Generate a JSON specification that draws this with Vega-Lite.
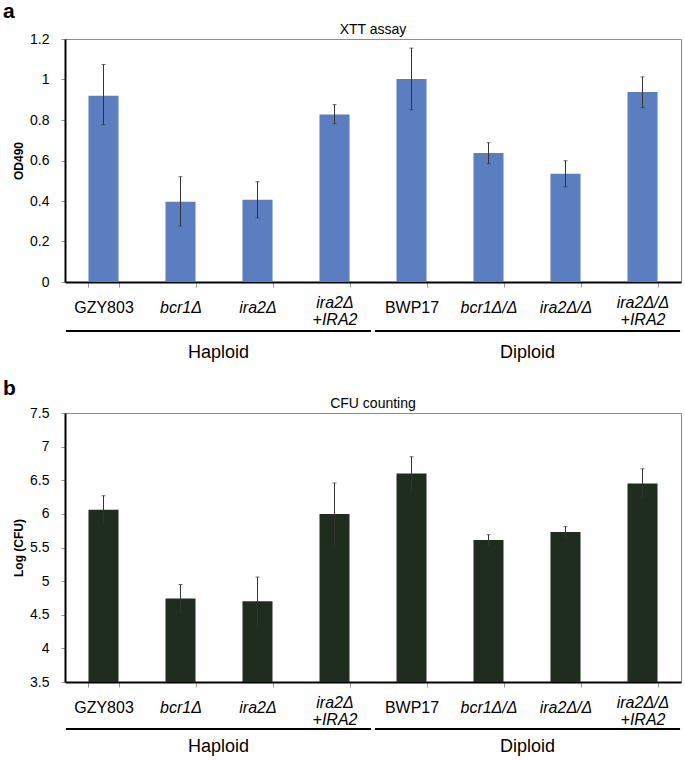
{
  "$schema": "https://vega.github.io/schema/vega-lite/v6.json",
  "padding": {"left": 3, "top": 0, "right": 3, "bottom": 0},
  "background": "white",
  "config": {
    "font": "Liberation Sans",
    "view": {"stroke": "#8c8c8c", "strokeWidth": 1},
    "axisY": {"domainColor": "#000", "domainWidth": 2, "tickColor": "#999", "tickSize": 4, "labelFontSize": 14, "labelColor": "#000", "labelPadding": 12, "labelOverlap": false, "labelBound": false, "titleFontSize": 12, "titleFontWeight": "bold", "titleColor": "#000", "titlePadding": 4, "grid": false, "format": "~g"},
    "axisX": {"domainColor": "#000", "domainWidth": 2, "tickColor": "#999", "tickSize": 5, "tickBand": "extent", "labelFontSize": 16, "labelColor": "#000", "labelPadding": 20, "labelLineHeight": 17, "labelAngle": 0, "labelOverlap": false, "labelLimit": 0, "title": null, "grid": false},
    "title": {"color": "#000"}
  },
  "datasets": {
    "strains": [
      {"strain": "GZY803", "od": 0.92, "odLo": 0.777, "odHi": 1.074, "cfu": 6.06, "cfuLo": 5.87, "cfuHi": 6.27},
      {"strain": "bcr1Δ", "od": 0.396, "odLo": 0.277, "odHi": 0.52, "cfu": 4.74, "cfuLo": 4.53, "cfuHi": 4.95},
      {"strain": "ira2Δ", "od": 0.406, "odLo": 0.317, "odHi": 0.495, "cfu": 4.7, "cfuLo": 4.31, "cfuHi": 5.06},
      {"strain": "ira2Δ|+IRA2", "od": 0.827, "odLo": 0.782, "odHi": 0.876, "cfu": 6.0, "cfuLo": 5.52, "cfuHi": 6.46},
      {"strain": "BWP17", "od": 1.003, "odLo": 0.851, "odHi": 1.155, "cfu": 6.6, "cfuLo": 6.34, "cfuHi": 6.85},
      {"strain": "bcr1Δ/Δ", "od": 0.637, "odLo": 0.584, "odHi": 0.688, "cfu": 5.61, "cfuLo": 5.53, "cfuHi": 5.69},
      {"strain": "ira2Δ/Δ", "od": 0.535, "odLo": 0.47, "odHi": 0.599, "cfu": 5.73, "cfuLo": 5.65, "cfuHi": 5.81},
      {"strain": "ira2Δ/Δ|+IRA2", "od": 0.938, "odLo": 0.861, "odHi": 1.013, "cfu": 6.45, "cfuLo": 6.25, "cfuHi": 6.67}
    ],
    "groups": [
      {"group": "Haploid"},
      {"group": "Diploid"}
    ]
  },
  "spacing": 14,
  "vconcat": [
    {
      "title": {"text": "a", "anchor": "start", "frame": "bounds", "fontSize": 21, "fontWeight": "bold", "dx": -9, "offset": 1},
      "vconcat": [
        {
          "width": 616,
          "height": 243,
          "title": {"text": "XTT assay", "fontSize": 14, "fontWeight": "normal", "offset": -5, "frame": "group"},
          "layer": [
            {
              "data": {"name": "strains"},
              "layer": [
                {
                  "mark": {"type": "bar", "color": "#5b7ec0"},
                  "encoding": {
                    "x": {"field": "strain", "type": "nominal", "sort": null, "scale": {"paddingInner": 0.61, "paddingOuter": 0.305},
                      "axis": {"labelExpr": "isValid(datum.value) ? split(datum.value, '|') : ''",
                        "labelFontStyle": {"condition": {"test": "datum.value == 'GZY803' || datum.value == 'BWP17'", "value": "normal"}, "value": "italic"},
                        "labelBaseline": {"condition": {"test": "isValid(datum.value) && indexof(datum.value, '|') >= 0", "value": "alphabetic"}, "value": "middle"}}},
                    "y": {"field": "od", "type": "quantitative", "scale": {"domain": [0, 1.2]}, "title": "OD490", "axis": {"values": [0, 0.2, 0.4, 0.6, 0.8, 1, 1.2], "labelOverlap": false}}
                  }
                },
                {
                  "mark": {"type": "rule", "color": "#333", "strokeWidth": 1},
                  "encoding": {
                    "x": {"field": "strain", "type": "nominal", "sort": null},
                    "y": {"field": "odLo", "type": "quantitative", "title": "OD490", "axis": {"values": [0, 0.2, 0.4, 0.6, 0.8, 1, 1.2], "labelOverlap": false}},
                    "y2": {"field": "odHi"}
                  }
                },
                {
                  "mark": {"type": "tick", "color": "#333", "size": 4, "thickness": 1},
                  "encoding": {
                    "x": {"field": "strain", "type": "nominal", "sort": null},
                    "y": {"field": "odLo", "type": "quantitative", "title": "OD490", "axis": {"values": [0, 0.2, 0.4, 0.6, 0.8, 1, 1.2], "labelOverlap": false}}
                  }
                },
                {
                  "mark": {"type": "tick", "color": "#333", "size": 4, "thickness": 1},
                  "encoding": {
                    "x": {"field": "strain", "type": "nominal", "sort": null},
                    "y": {"field": "odHi", "type": "quantitative", "title": "OD490", "axis": {"values": [0, 0.2, 0.4, 0.6, 0.8, 1, 1.2], "labelOverlap": false}}
                  }
                }
              ]
            },
            {
              "data": {"name": "groups"},
              "layer": [
                {
                  "mark": {"type": "bar", "color": "#000"},
                  "encoding": {
                    "x": {"field": "group", "type": "nominal", "sort": null, "scale": {"paddingInner": 0.013, "paddingOuter": 0.003}, "axis": null},
                    "y": {"datum": -0.2375, "type": "quantitative", "title": "OD490", "axis": {"values": [0, 0.2, 0.4, 0.6, 0.8, 1, 1.2], "labelOverlap": false}},
                    "y2": {"datum": -0.2475}
                  }
                },
                {
                  "mark": {"type": "text", "fontSize": 18, "color": "#000"},
                  "encoding": {
                    "x": {"field": "group", "type": "nominal", "sort": null, "axis": null},
                    "y": {"datum": -0.35, "type": "quantitative", "title": "OD490", "axis": {"values": [0, 0.2, 0.4, 0.6, 0.8, 1, 1.2], "labelOverlap": false}},
                    "text": {"field": "group"}
                  }
                }
              ]
            }
          ],
          "resolve": {"scale": {"x": "independent"}}
        }
      ]
    },
    {
      "title": {"text": "b", "anchor": "start", "frame": "bounds", "fontSize": 21, "fontWeight": "bold", "dx": -9, "offset": -2},
      "vconcat": [
        {
          "width": 616,
          "height": 269,
          "title": {"text": "CFU counting", "fontSize": 14, "fontWeight": "normal", "offset": -5, "frame": "group"},
          "layer": [
            {
              "data": {"name": "strains"},
              "layer": [
                {
                  "mark": {"type": "bar", "color": "#1f2d1f"},
                  "encoding": {
                    "x": {"field": "strain", "type": "nominal", "sort": null, "scale": {"paddingInner": 0.61, "paddingOuter": 0.305},
                      "axis": {"labelExpr": "isValid(datum.value) ? split(datum.value, '|') : ''",
                        "labelFontStyle": {"condition": {"test": "datum.value == 'GZY803' || datum.value == 'BWP17'", "value": "normal"}, "value": "italic"},
                        "labelBaseline": {"condition": {"test": "isValid(datum.value) && indexof(datum.value, '|') >= 0", "value": "alphabetic"}, "value": "middle"}}},
                    "y": {"field": "cfu", "type": "quantitative", "scale": {"domain": [3.5, 7.5], "zero": false}, "title": "Log (CFU)", "axis": {"values": [3.5, 4, 4.5, 5, 5.5, 6, 6.5, 7, 7.5], "labelOverlap": false}},
                    "y2": {"datum": 3.5}
                  }
                },
                {
                  "mark": {"type": "rule", "color": "#333", "strokeWidth": 1},
                  "encoding": {
                    "x": {"field": "strain", "type": "nominal", "sort": null},
                    "y": {"field": "cfuLo", "type": "quantitative", "title": "Log (CFU)", "axis": {"values": [3.5, 4, 4.5, 5, 5.5, 6, 6.5, 7, 7.5], "labelOverlap": false}},
                    "y2": {"field": "cfuHi"}
                  }
                },
                {
                  "mark": {"type": "tick", "color": "#333", "size": 4, "thickness": 1},
                  "encoding": {
                    "x": {"field": "strain", "type": "nominal", "sort": null},
                    "y": {"field": "cfuLo", "type": "quantitative", "title": "Log (CFU)", "axis": {"values": [3.5, 4, 4.5, 5, 5.5, 6, 6.5, 7, 7.5], "labelOverlap": false}}
                  }
                },
                {
                  "mark": {"type": "tick", "color": "#333", "size": 4, "thickness": 1},
                  "encoding": {
                    "x": {"field": "strain", "type": "nominal", "sort": null},
                    "y": {"field": "cfuHi", "type": "quantitative", "title": "Log (CFU)", "axis": {"values": [3.5, 4, 4.5, 5, 5.5, 6, 6.5, 7, 7.5], "labelOverlap": false}}
                  }
                }
              ]
            },
            {
              "data": {"name": "groups"},
              "layer": [
                {
                  "mark": {"type": "bar", "color": "#000"},
                  "encoding": {
                    "x": {"field": "group", "type": "nominal", "sort": null, "scale": {"paddingInner": 0.013, "paddingOuter": 0.003}, "axis": null},
                    "y": {"datum": 2.815, "type": "quantitative", "title": "Log (CFU)", "axis": {"values": [3.5, 4, 4.5, 5, 5.5, 6, 6.5, 7, 7.5], "labelOverlap": false}},
                    "y2": {"datum": 2.785}
                  }
                },
                {
                  "mark": {"type": "text", "fontSize": 18, "color": "#000"},
                  "encoding": {
                    "x": {"field": "group", "type": "nominal", "sort": null, "axis": null},
                    "y": {"datum": 2.53, "type": "quantitative", "title": "Log (CFU)", "axis": {"values": [3.5, 4, 4.5, 5, 5.5, 6, 6.5, 7, 7.5], "labelOverlap": false}},
                    "text": {"field": "group"}
                  }
                }
              ]
            }
          ],
          "resolve": {"scale": {"x": "independent"}}
        }
      ]
    }
  ]
}
